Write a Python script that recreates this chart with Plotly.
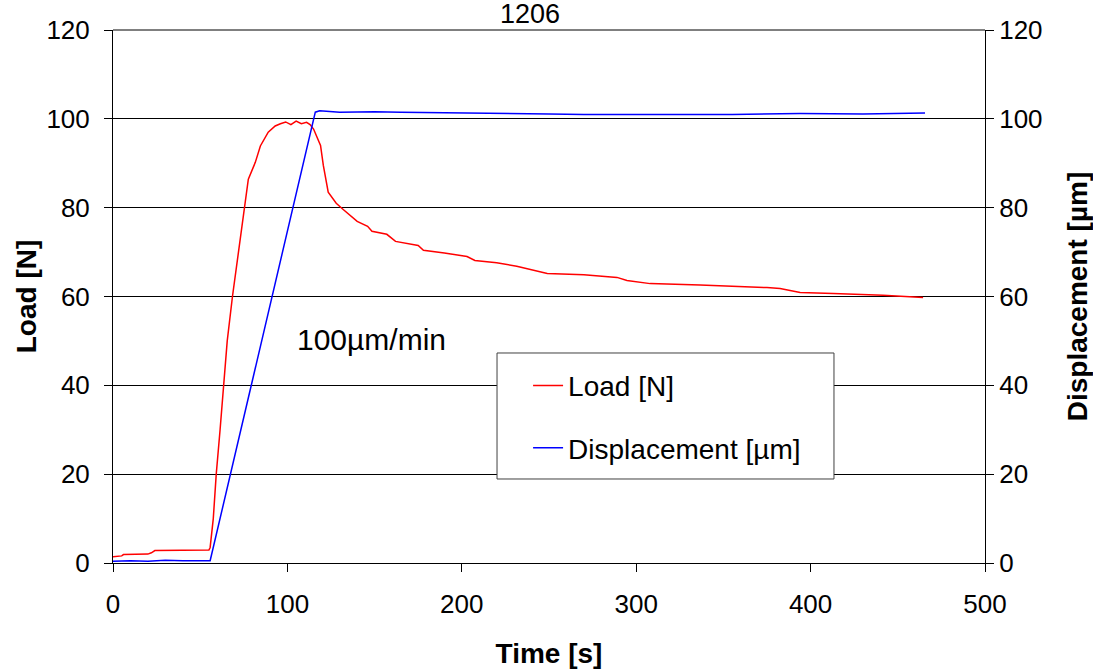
import plotly.graph_objects as go

# Data --------------------------------------------------------------------------
load_time = [0, 5, 6, 20, 22, 24, 55, 55.7, 57.5, 59.2, 61.4, 63.5, 65.5, 68.5, 72,
             75.2, 77.6, 81.6, 84.5, 89, 93, 96, 99, 102, 105, 108, 111, 113, 115,
             119, 120.6, 123.4, 128, 132, 136, 140, 146, 148.5, 157, 162, 175, 178,
             190, 203, 207.5, 220, 231.5, 241, 249, 270, 289, 294.7, 308, 336.6,
             360, 375, 382.5, 394, 413, 441.5, 464.5]
load_n = [1.4, 1.6, 1.9, 2.0, 2.3, 2.8, 2.9, 3.5, 10, 20, 30, 40, 50, 60, 70,
          80, 86.4, 90.2, 93.9, 97, 98.4, 98.9, 99.3, 98.7, 99.5, 98.9, 99.2, 98.7, 97.7,
          94, 89.5, 83.5, 81, 79.6, 78.2, 76.9, 75.8, 74.7, 74.0, 72.4, 71.5, 70.4,
          69.8, 69.0, 68.1, 67.6, 66.8, 65.9, 65.2, 64.9, 64.3, 63.6, 62.9, 62.6,
          62.3, 62.0, 61.8, 60.9, 60.7, 60.3, 59.8]

disp_time = [0, 10, 20, 30, 40, 50, 55.7, 116, 118.5, 130, 150, 165, 200, 222,
             250, 270, 310, 330, 355, 394, 430, 465.6]
disp_um = [0.4, 0.5, 0.4, 0.6, 0.5, 0.45, 0.5, 101.5, 101.8, 101.5, 101.6, 101.5,
           101.4, 101.2, 101.1, 101.0, 100.9, 101.0, 101.0, 101.2, 101.1, 101.3]

y_ticks = [0, 20, 40, 60, 80, 100, 120]
x_ticks = [0, 100, 200, 300, 400, 500]

# Settings ----------------------------------------------------------------------
font_family = "Liberation Sans, Arial, sans-serif"
tick_size = 26
title_size = 28
grid_colour = "black"

fig = go.Figure()

fig.add_trace(go.Scatter(
    x=load_time, y=load_n, name="Load [N]", mode="lines",
    line=dict(color="#FF0000", width=1.5),
    legendgroup="a",
))
fig.add_trace(go.Scatter(
    x=disp_time, y=disp_um, name="Displacement [µm]", mode="lines",
    line=dict(color="#0000FF", width=1.5),
    yaxis="y2", legendgroup="b",
))

axis_common = dict(
    range=[0, 120], tickvals=y_ticks, showline=True, linecolor="black",
    linewidth=1, ticks="outside", ticklen=8, tickcolor="black",
    tickfont=dict(size=tick_size, color="black"), zeroline=False,
    automargin=False,
)

fig.update_layout(
    width=1093, height=669,
    margin=dict(l=113, r=108, t=30, b=106, autoexpand=False),
    paper_bgcolor="white", plot_bgcolor="white",
    font=dict(family=font_family, size=tick_size, color="black"),
    showlegend=True,
    xaxis=dict(
        range=[0, 500], tickvals=x_ticks, showline=True, linecolor="black",
        linewidth=1, ticks="outside", ticklen=8, tickcolor="black",
        showgrid=False, zeroline=False, ticklabelstandoff=10, automargin=False,
        tickfont=dict(size=tick_size, color="black"),
        title=dict(text="<b>Time [s]</b>", font=dict(size=title_size), standoff=28),
    ),
    yaxis=dict(
        **axis_common, showgrid=True, gridcolor=grid_colour, gridwidth=1,
        ticklabelstandoff=9,
        title=dict(text="<b>Load [N]</b>", font=dict(size=title_size), standoff=1),
    ),
    yaxis2=dict(
        **axis_common, overlaying="y", side="right", showgrid=False,
        title=dict(text="<b>Displacement [µm]</b>", font=dict(size=title_size), standoff=25),
    ),
    legend=dict(
        x=0.476, y=0.3795, xanchor="left", yanchor="top",
        bgcolor="rgba(0,0,0,0)", borderwidth=0,
        font=dict(size=28), traceorder="grouped", tracegroupgap=23,
        itemwidth=30,
    ),
)

# Legend box (opaque, hides the gridlines behind it)
fig.add_shape(
    type="rect", xref="paper", yref="paper",
    x0=0.4404, x1=0.8268, y0=0.1576, y1=0.394,
    line=dict(color="#404040", width=1), fillcolor="white", layer="above",
)

# Top border line at 120
fig.add_shape(
    type="line", xref="paper", yref="paper", x0=0, x1=1, y0=1, y1=1,
    line=dict(color="black", width=1), layer="below",
)

fig.add_annotation(
    text="1206", xref="paper", yref="paper", x=0.478, y=1,
    xanchor="center", yanchor="middle", yshift=16, showarrow=False,
    font=dict(size=27),
)
fig.add_annotation(
    text="100µm/min", x=104.4, y=50.3, xanchor="left", yanchor="middle",
    showarrow=False, font=dict(size=30),
)

# drop the default 8px page margin so the figure fills the window
fig.write_html(
    "out.html",
    config={"displayModeBar": False},
    post_script="document.body.style.margin='0';",
)
